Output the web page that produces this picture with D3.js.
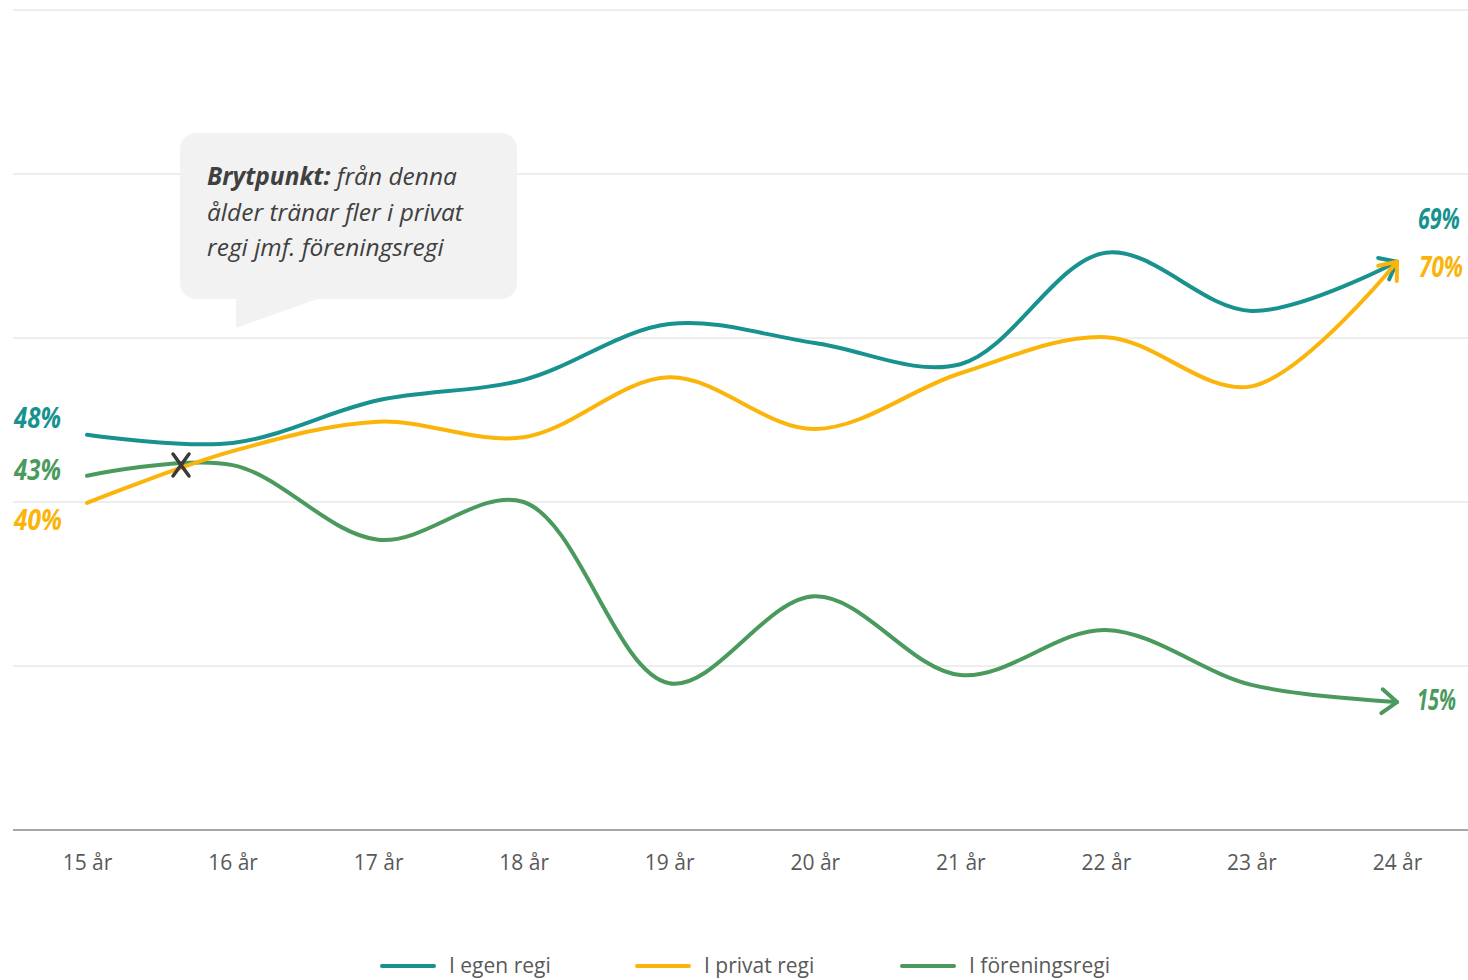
<!DOCTYPE html>
<html><head><meta charset="utf-8">
<script src="https://cdn.jsdelivr.net/npm/d3@7"></script>
<style>
body{margin:0;background:#fff;}
svg{display:block;}
.hand{font-family:"Open Sans",sans-serif;font-weight:bold;font-style:italic;}
</style></head>
<body>
<svg id="chart" width="1468" height="980"></svg>
<script>
const categories = ["15 år","16 år","17 år","18 år","19 år","20 år","21 år","22 år","23 år","24 år"];
const seriesNames = ["I egen regi","I privat regi","I föreningsregi"];
const egenRegi = [48.2,47.2,52.4,54.9,61.7,59.4,56.8,70.4,63.3,69.3];
const privatRegi = [39.9,46.2,49.8,47.9,55.2,48.9,55.7,60.1,54.1,69.3];
const foreningsRegi = [43.2,44.5,35.4,40.0,17.9,28.5,18.9,24.4,17.7,15.6];
const colors = ["#17928f","#fbb40a","#4b9a5d"];
const yTicks = [0,20,40,60,80,100];
const startLabels = ["48%","40%","43%"];
const endLabels = ["69%","70%","15%"];

const svg = d3.select("#chart");
const x = d3.scalePoint().domain(categories).range([87,1397]);
const y = d3.scaleLinear().domain([0,100]).range([830,10]);

// gridlines
svg.append("g").selectAll("line").data(yTicks.filter(d=>d>0)).join("line")
  .attr("x1",13).attr("x2",1468).attr("y1",d=>y(d)).attr("y2",d=>y(d))
  .attr("stroke","#ededed").attr("stroke-width",2);

// x axis
const xAxis = svg.append("g").attr("transform",`translate(0,${y(0)})`)
  .call(d3.axisBottom(x).tickSize(0).tickPadding(25));
xAxis.select(".domain").remove();
xAxis.append("line").attr("x1",13).attr("x2",1468).attr("y1",0).attr("y2",0)
  .attr("stroke","#a6a6a6").attr("stroke-width",2);
xAxis.selectAll("text").attr("font-family","'Open Sans',sans-serif").attr("font-size",21).attr("fill","#595959");

// callout
const callout = svg.append("g");
callout.append("rect").attr("x",180).attr("y",133).attr("width",337).attr("height",166).attr("rx",16).attr("fill","#f2f2f2");
callout.append("path").attr("d","M236,298 L236,328 L320,298 Z").attr("fill","#f2f2f2");
const tl = callout.append("text").attr("font-family","'Open Sans',sans-serif").attr("font-style","italic").attr("font-size",24.5).attr("fill","#404040");
const t1 = tl.append("tspan").attr("x",207).attr("y",185);
t1.append("tspan").attr("font-weight","bold").text("Brytpunkt:");
t1.append("tspan").text(" från denna");
tl.append("tspan").attr("x",207).attr("y",221).text("ålder tränar fler i privat");
tl.append("tspan").attr("x",207).attr("y",256).text("regi jmf. föreningsregi");

// arrow markers
const defs = svg.append("defs");
colors.forEach((c,i)=>{
  defs.append("marker").attr("id","arr"+i).attr("viewBox","-20 -16 24 32")
    .attr("refX",0).attr("refY",0).attr("markerWidth",24).attr("markerHeight",32)
    .attr("markerUnits","userSpaceOnUse").attr("orient","auto")
    .append("path").attr("d","M-15,-12 L0,0 L-15,12").attr("fill","none")
    .attr("stroke",c).attr("stroke-width",4).attr("stroke-linecap","round").attr("stroke-linejoin","round");
});

const series = [egenRegi, privatRegi, foreningsRegi];
const line = d3.line().x((d,i)=>x(categories[i])).y(d=>y(d)).curve(d3.curveCatmullRom.alpha(0.5));
const drawOrder = [2,0,1];
drawOrder.forEach(i=>{
  svg.append("path").datum(series[i]).attr("d",line).attr("fill","none")
    .attr("stroke",colors[i]).attr("stroke-width",4).attr("stroke-linecap","round")
    .attr("marker-end","url(#arr"+i+")");
});

// crossing mark
const cx = 181, cy = 465;
svg.append("path").attr("d",`M${cx-8},${cy-11} L${cx+8},${cy+11} M${cx+8},${cy-11} L${cx-8},${cy+11}`)
  .attr("stroke","#3a3a3a").attr("stroke-width",3.5).attr("stroke-linecap","round");

// condensed hand-style labels (scaled horizontally to the target width)
function handLabel(tx, ty, w, color, str){
  const g = svg.append("g");
  const t = g.append("text").attr("class","hand").attr("x",0).attr("y",0).attr("font-size",29)
    .attr("fill",color).text(str);
  const natural = t.node().getComputedTextLength() || w;
  g.attr("transform",`translate(${tx},${ty}) scale(${w/natural},1)`);
}
const startY = [428,530,480];
const startW = [47,48,47];
[0,1,2].forEach(i=>handLabel(14,startY[i],startW[i],colors[i],startLabels[i]));
const endY = [229,277,710];
const endX = [1418,1419,1417];
const endW = [42,44,39];
[0,1,2].forEach(i=>handLabel(endX[i],endY[i],endW[i],colors[i],endLabels[i]));

// legend
const legX = [382,637,902];
seriesNames.forEach((n,i)=>{
  const g = svg.append("g");
  g.append("line").attr("x1",legX[i]).attr("x2",legX[i]+52).attr("y1",966).attr("y2",966)
    .attr("stroke",colors[i]).attr("stroke-width",4).attr("stroke-linecap","round");
  g.append("text").attr("x",legX[i]+67).attr("y",973).attr("font-family","'Open Sans',sans-serif")
    .attr("font-size",21).attr("fill","#595959").text(n);
});
</script>
</body></html>
